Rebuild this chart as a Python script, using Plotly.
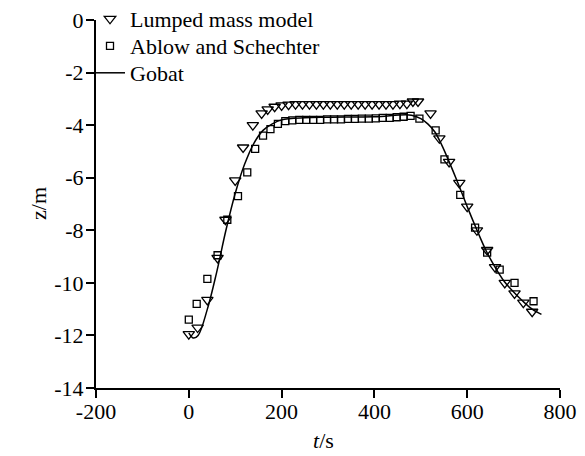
import plotly.graph_objects as go

# Lumped mass model (triangles)
lump_t = [0, 19, 40, 62, 79, 100, 117, 138, 157, 170, 185, 200, 215, 230, 245, 260, 275, 290,
          305, 320, 335, 350, 365, 380, 395, 410, 425, 440, 455, 470, 483, 494,
          521, 540, 561, 583, 600, 621, 643, 660, 681, 702, 721, 740]
lump_z = [-11.95, -11.7, -10.65, -9.05, -7.6, -6.1, -4.85, -4.0, -3.55, -3.4, -3.3, -3.25, -3.22, -3.2,
          -3.2, -3.2, -3.2, -3.2, -3.2, -3.2, -3.2, -3.2, -3.2, -3.2, -3.2, -3.2, -3.2, -3.2,
          -3.18, -3.18, -3.1, -3.1,
          -3.55, -4.5, -5.4, -6.2, -7.1, -8.0, -8.75, -9.4, -10.0, -10.4, -10.75, -11.1]

# Ablow and Schechter (squares)
ablow_t = [0, 17, 40, 62, 83, 106, 126, 143, 160, 176, 192, 208, 223, 238, 253, 268, 283, 298,
           313, 328, 343, 358, 373, 388, 403, 418, 433, 448, 463, 478, 497,
           532, 551, 585, 617, 643, 670, 702, 743]
ablow_z = [-11.4, -10.8, -9.85, -8.95, -7.6, -6.7, -5.8, -4.9, -4.4, -4.15, -3.95, -3.85, -3.82, -3.8,
           -3.8, -3.8, -3.8, -3.78, -3.78, -3.78, -3.76, -3.76, -3.75, -3.75, -3.74, -3.72, -3.72,
           -3.7, -3.68, -3.65, -3.75,
           -4.2, -5.3, -6.65, -7.9, -8.85, -9.5, -10.0, -10.7]

# Gobat (line)
gobat_t = [0, 10, 20, 40, 60, 80, 100, 120, 140, 160, 180, 200, 250, 300, 400, 480, 500, 515, 530,
           545, 560, 580, 600, 620, 640, 660, 680, 700, 720, 740, 760]
gobat_z = [-11.9, -12.1, -12.0, -11.0, -9.6, -8.0, -6.6, -5.5, -4.7, -4.2, -3.95, -3.8, -3.72, -3.7,
           -3.68, -3.62, -3.75, -3.95, -4.25, -4.75, -5.35, -6.2, -7.1, -7.95, -8.75, -9.4, -9.95,
           -10.35, -10.7, -11.0, -11.2]

x_ticks = [-200, 0, 200, 400, 600, 800]
y_ticks = [0, -2, -4, -6, -8, -10, -12, -14]

FONT = "Liberation Serif, Times New Roman, serif"
FS = 22
W, H = 569, 440  # page has an 8px body margin inside the 585x456 window

fig = go.Figure()
fig.add_trace(go.Scatter(
    x=lump_t, y=lump_z, mode="markers", name="Lumped mass model", legend="legend",
    marker=dict(symbol="triangle-down-open", size=10, color="black", line=dict(width=1.3)),
))
fig.add_trace(go.Scatter(
    x=ablow_t, y=ablow_z, mode="markers", name="Ablow and Schechter", legend="legend2",
    marker=dict(symbol="square-open", size=7, color="black", line=dict(width=1.3)),
))
fig.add_trace(go.Scatter(
    x=gobat_t, y=gobat_z, mode="lines", name="Gobat", legend="legend3",
    line=dict(color="black", width=1.5, shape="spline"),
))

axis_common = dict(
    showgrid=False, zeroline=False, showline=True, linecolor="black", linewidth=2,
    ticks="outside", ticklen=8, tickwidth=2, tickcolor="black", automargin=False,
    ticklabeloverflow="allow",
    tickfont=dict(family=FONT, size=FS, color="black"),
)

def leg(y_px):
    return dict(x=82 / W, y=1 - y_px / H, xref="container", yref="container",
                xanchor="left", yanchor="middle",
                bgcolor="rgba(0,0,0,0)", font=dict(family=FONT, size=FS, color="black"),
                itemwidth=30)

fig.update_layout(
    width=W, height=H,
    margin=dict(l=88, r=17, t=12, b=60, autoexpand=False),
    paper_bgcolor="white", plot_bgcolor="white",
    font=dict(family=FONT, size=FS, color="black"),
    showlegend=True,
    legend=leg(11),
    legend2=leg(38),
    legend3=leg(65),
    xaxis=dict(range=[-200, 800], tickvals=x_ticks, ticktext=[str(v) for v in x_ticks],
               ticklabelstandoff=-5, **axis_common),
    yaxis=dict(range=[-14, 0], tickvals=y_ticks, ticktext=[str(v) for v in y_ticks],
               ticklabelstandoff=-2, **axis_common),
    annotations=[
        dict(text="<i>t</i>/s", xref="paper", yref="paper", x=0.49, y=0,
             xanchor="center", yanchor="top", yshift=-38, height=24, showarrow=False,
             font=dict(family=FONT, size=FS, color="black")),
        dict(text="z/m", xref="paper", yref="paper", x=0, y=0.5,
             xanchor="center", yanchor="middle", xshift=-58, textangle=-90, showarrow=False,
             font=dict(family=FONT, size=FS, color="black")),
    ],
)

fig.write_html("out.html")
